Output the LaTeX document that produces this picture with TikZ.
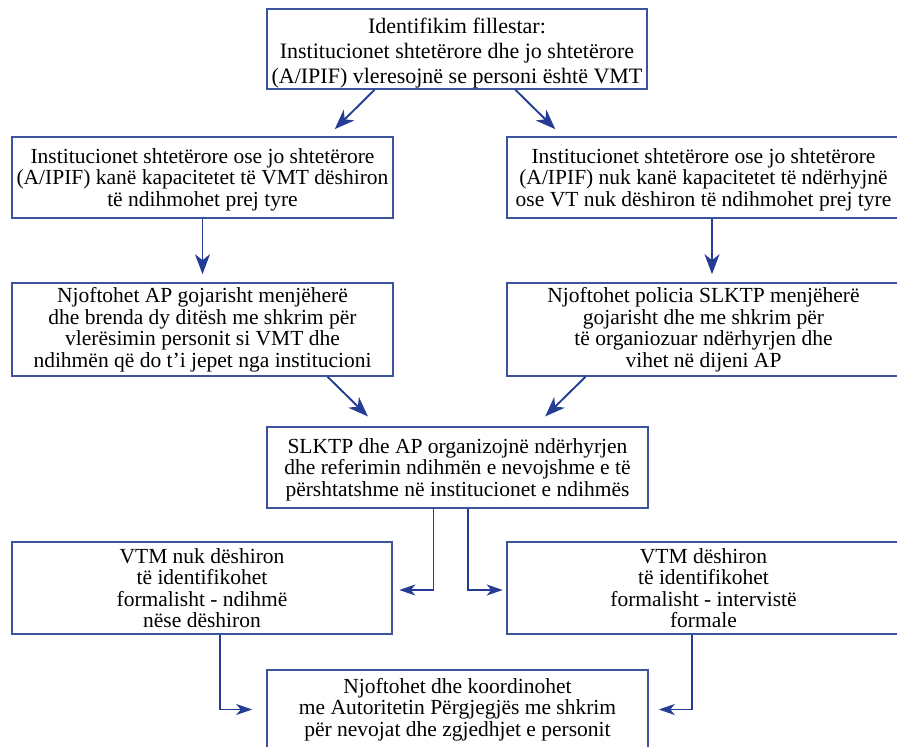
\documentclass[tikz,border=0pt]{standalone}
\usepackage{fontspec}
\setmainfont{Liberation Serif}
\usetikzlibrary{arrows.meta,calc}
\definecolor{boxblue}{RGB}{60,84,160}
\definecolor{arrblue}{RGB}{36,60,148}
\begin{document}
\begin{tikzpicture}[x=1pt,y=-1pt,
  box/.style={draw=boxblue,line width=1.6pt,rectangle,inner sep=0pt,align=center,
    font=\fontsize{21.5}{21.5}\selectfont,text=black},
  bigarrow/.style={draw=arrblue,line width=1.9pt,-{Stealth[length=20pt,width=15pt,inset=6pt]}},
  smallarrow/.style={draw=arrblue,line width=1.6pt,-{Stealth[length=16pt,width=11pt,inset=4.5pt]}}]
\useasboundingbox (0,0) rectangle (897,747);
\clip (0,0) rectangle (897,747);
\fill[white] (0,0) rectangle (897,747);
% boxes
\node[box,minimum width=380,minimum height=80,font=\fontsize{22}{25}\selectfont] (top) at (457,49)
  {\rule{0pt}{24pt}Identifikim fillestar:\\Institucionet shtetërore dhe jo shtetërore\\(A/IPIF) vleresojnë se personi është VMT};
\node[box,minimum width=381,minimum height=81] (L1) at (202.5,177.5)
  {\rule{0pt}{19.5pt}Institucionet shtetërore ose jo shtetërore\\(A/IPIF) kanë kapacitetet të VMT dëshiron\\të ndihmohet prej tyre};
\node[box,minimum width=393,minimum height=81] (R1) at (703.5,177.5)
  {\rule{0pt}{19.5pt}Institucionet shtetërore ose jo shtetërore\\(A/IPIF) nuk kanë kapacitetet të ndërhyjnë\\ose VT nuk dëshiron të ndihmohet prej tyre};
\node[box,minimum width=381,minimum height=93] (L2) at (202.5,329.5)
  {Njoftohet AP gojarisht menjëherë\\dhe brenda dy ditësh me shkrim për\\vlerësimin personit si VMT dhe\\ndihmën që do t’i jepet nga institucioni};
\node[box,minimum width=393,minimum height=93] (R2) at (703.5,329.5)
  {Njoftohet policia SLKTP menjëherë\\gojarisht dhe me shkrim për\\të organiozuar ndërhyrjen dhe\\vihet në dijeni AP};
\node[box,minimum width=381,minimum height=81] (mid) at (457.5,467.5)
  {\rule{0pt}{19.5pt}SLKTP dhe AP organizojnë ndërhyrjen\\dhe referimin ndihmën e nevojshme e të\\përshtatshme në institucionet e ndihmës};
\node[box,minimum width=380,minimum height=92] (BL) at (202,588)
  {VTM nuk dëshiron\\të identifikohet\\formalisht - ndihmë\\nëse dëshiron};
\node[box,minimum width=393,minimum height=92] (BR) at (703.5,588)
  {VTM dëshiron\\të identifikohet\\formalisht - intervistë\\formale};
\node[box,minimum width=381,minimum height=79] (fin) at (457.5,709.5)
  {Njoftohet dhe koordinohet\\me Autoritetin Përgjegjës me shkrim\\për nevojat dhe zgjedhjet e personit};
% connectors
\draw[bigarrow,shorten >=10pt] ($(top.south west)!0.284!(top.south east)$) -- ($(L1.north west)!0.827!(L1.north east)$);
\draw[bigarrow,shorten >=10pt] ($(top.south west)!0.653!(top.south east)$) -- ($(R1.north west)!0.1425!(R1.north east)$);
\draw[bigarrow,shorten >=8pt] (L1.south) -- (L2.north);
\coordinate (rx) at (712,0);
\draw[bigarrow,shorten >=8pt] (R1.south -| rx) -- (R2.north -| rx);
\draw[bigarrow,shorten >=14pt] ($(L2.south west)!0.827!(L2.south east)$) -- ($(mid.north west)!0.292!(mid.north east)$);
\draw[bigarrow,shorten >=14pt] ($(R2.south west)!0.201!(R2.south east)$) -- ($(mid.north west)!0.703!(mid.north east)$);
\coordinate (mlx) at (433.5,0);
\coordinate (mrx) at (468,0);
\draw[smallarrow,shorten >=6.5pt] (mid.south -| mlx) |- ($(BL.east)+(0,2)$);
\draw[smallarrow,shorten >=3.5pt] (mid.south -| mrx) |- ($(BR.west)+(0,2)$);
\coordinate (blx) at (220,0);
\coordinate (brx) at (692,0);
\draw[smallarrow,shorten >=14pt] (BL.south -| blx) |- (fin.west);
\draw[smallarrow,shorten >=10pt] (BR.south -| brx) |- (fin.east);
\end{tikzpicture}
\end{document}
